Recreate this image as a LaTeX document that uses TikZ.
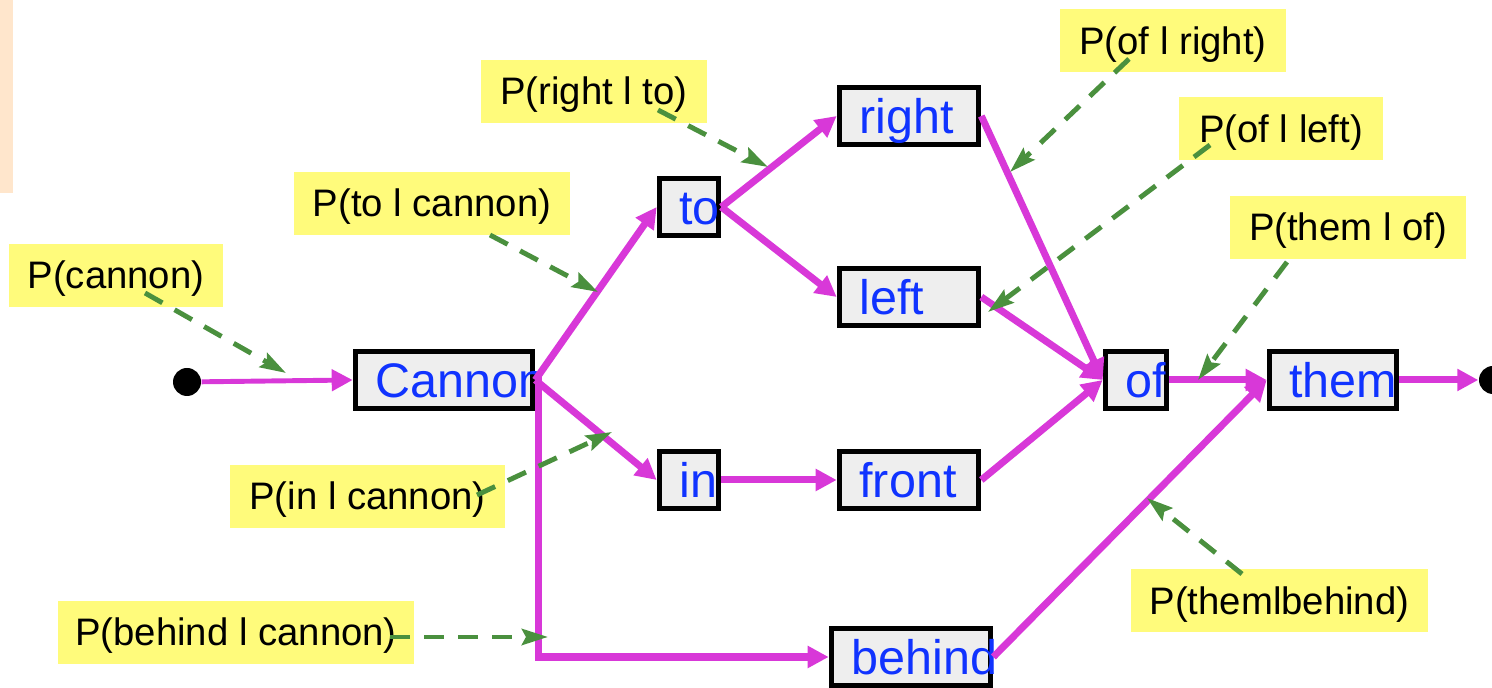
\documentclass[tikz,border=0pt]{standalone}
\usepackage{fontspec}
\setmainfont{Liberation Sans}
\usepackage{xcolor}
\usepackage{tikz}
\usetikzlibrary{positioning,arrows.meta,calc}

\definecolor{linkmag}{HTML}{D838D8}
\definecolor{hintgreen}{HTML}{4A903E}
\definecolor{probyellow}{HTML}{FFFB7B}
\definecolor{boxgray}{HTML}{EEEEEE}
\definecolor{wordblue}{HTML}{1033FF}
\definecolor{stripbeige}{HTML}{FFE6CC}

\tikzset{
  word/.style={draw=black, line width=1.6pt, fill=boxgray, text=wordblue,
    font=\fontsize{13.8}{16}\selectfont, inner xsep=0.2cm, inner ysep=0pt,
    text width=#1, align=left, minimum height=0.57cm,
    text height=0.35cm, text depth=0cm},
  prob/.style={fill=probyellow, font=\fontsize{10.9}{12}\selectfont,
    inner sep=0pt, minimum width=#1, minimum height=0.63cm,
    text height=0.27cm, text depth=0cm},
  link/.style={draw=linkmag, line width=2pt,
    -{Triangle[length=0.21cm,width=0.21cm]}},
  hint/.style={draw=hintgreen, line width=1.4pt, dash pattern=on 0.2cm off 0.14cm,
    -{Stealth[length=0.26cm,width=0.16cm,inset=0.04cm]}},
  dot/.style={circle, fill=black, inner sep=0pt, minimum size=0.28cm}
}

\begin{document}
\begin{tikzpicture}
    \useasboundingbox (0,0) rectangle (14.92,6.88);
    \clip (0,0) rectangle (14.92,6.88);
    \fill[stripbeige] (0,6.88) rectangle (0.13,4.95);

    % probability labels
    \node[prob=2.14cm] (lcan) at (1.16,4.125) {P(cannon)};
    \node[prob=2.76cm] (ltocan) at (4.32,4.845) {P(to l cannon)};
    \node[prob=2.26cm] (lrightto) at (5.94,5.965) {P(right l to)};
    \node[prob=2.26cm] (lofright) at (11.73,6.47) {P(of l right)};
    \node[prob=2.04cm] (lofleft) at (12.81,5.59) {P(of l left)};
    \node[prob=2.36cm] (lthemof) at (13.48,4.605) {P(them l of)};
    \node[prob=2.75cm] (lincan) at (3.675,1.915) {P(in l cannon)};
    \node[prob=3.56cm] (lbehcan) at (2.36,0.555) {P(behind l cannon)};
    \node[prob=2.97cm] (lthembeh) at (12.795,0.87) {P(themlbehind)};

    % words
    \node[dot] (start) at (1.87,3.06) {};
    \node[dot] (stop) at (14.93,3.08) {};
    \node[word=1.37cm] (cannon) at (4.44,3.08) {Cannon};
    \node[word=0.19cm] (to) at (6.89,4.81) {to};
    \node[word=0.19cm] (in) at (6.89,2.08) {in};
    \node[word=0.99cm] (right) at (9.09,5.72) {right};
    \node[word=0.99cm] (left) at (9.09,3.91) {left};
    \node[word=0.99cm] (front) at (9.09,2.08) {front};
    \node[word=1.19cm] (behind) at (9.11,0.31) {behind};
    \node[word=0.21cm] (of) at (11.36,3.08) {of};
    \node[word=0.87cm] (them) at (13.33,3.08) {them};

    % transitions
    \draw[link, line width=1.4pt] (start) -- (cannon.west);
    \draw[link] (cannon.east) -- (to.west);
    \draw[link] (cannon.east) -- (in.west);
    \draw[link] (cannon.east) -- ++(0.035,0) |- (behind.west);
    \draw[link] (to.east) -- (right.west);
    \draw[link] (to.east) -- (left.west);
    \draw[link] (in.east) -- (front.west);
    \draw[link] (right.east) -- (of.west);
    \draw[link] (left.east) -- (of.west);
    \draw[link] (front.east) -- (of.west);
    \draw[link] (behind.east) -- (them.west);
    \draw[link] (of.east) -- (them.west);
    \draw[link] (them.east) -- (stop);

    % where the labels point
    \coordinate (pcan) at (2.86,3.15);
    \coordinate (ptocan) at (5.98,3.96);
    \coordinate (prightto) at (7.68,5.21);
    \coordinate (pofright) at (10.10,5.16);
    \coordinate (pofleft) at (9.88,3.76);
    \coordinate (pthemof) at (11.98,3.08);
    \coordinate (pincan) at (6.12,2.56);
    \coordinate (pbehcan) at (5.48,0.51);
    \coordinate (pthembeh) at (11.47,1.90);

    \draw[hint] ([shift={(0.29,-0.175)}]lcan.center) -- (pcan);
    \draw[hint] ([shift={(0.58,-0.315)}]ltocan.center) -- (ptocan);
    \draw[hint] ([shift={(0.64,-0.185)}]lrightto.center) -- (prightto);
    \draw[hint] ([shift={(-0.44,-0.18)}]lofright.center) -- (pofright);
    \draw[hint] ([shift={(-0.71,-0.16)}]lofleft.center) -- (pofleft);
    \draw[hint] ([shift={(-0.61,-0.345)}]lthemof.center) -- (pthemof);
    \draw[hint] ([shift={(1.095,0.015)}]lincan.center) -- (pincan);
    \draw[hint] ([shift={(1.54,-0.045)}]lbehcan.center) -- (pbehcan);
    \draw[hint] ([shift={(-0.375,0.27)}]lthembeh.center) -- (pthembeh);
\end{tikzpicture}
\end{document}
